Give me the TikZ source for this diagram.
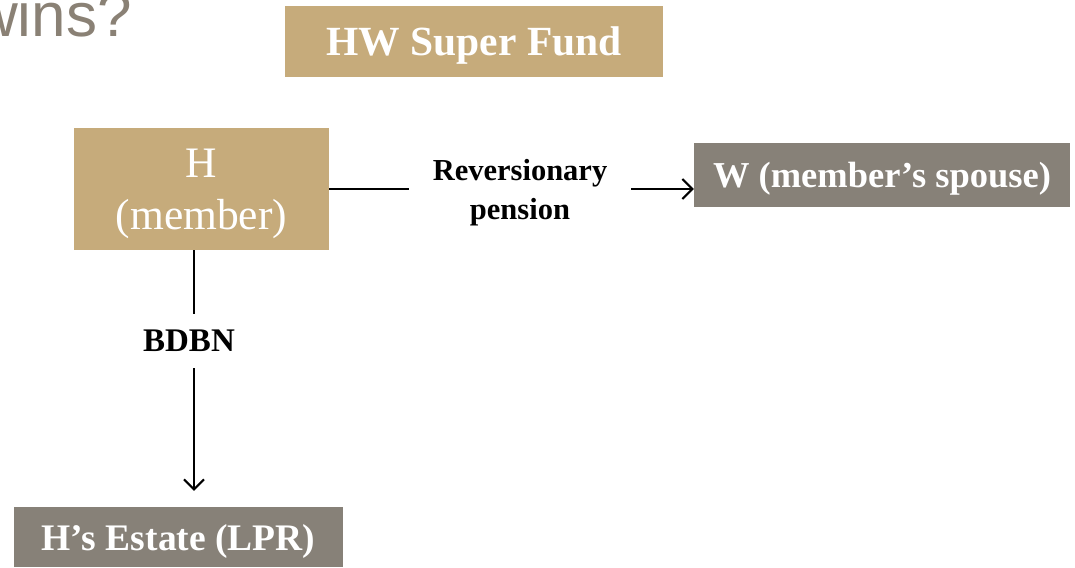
\documentclass[tikz,border=0pt]{standalone}
\usepackage{fontspec}
\setmainfont{Liberation Serif}
\newfontfamily\headfont{Liberation Sans}
\usetikzlibrary{arrows.meta}
\definecolor{fundtan}{HTML}{C6AB7B}
\definecolor{partygrey}{HTML}{878178}
\definecolor{headgrey}{HTML}{8A8175}
\tikzstyle{arrow} = [line width=2pt,-{Straight Barb[length=10pt,width=20pt,line width=2pt]}]
\tikzstyle{link} = [line width=2pt]
\tikzstyle{fundbox} = [fill=fundtan, text=white, inner sep=0pt, align=center, text depth=0pt]
\tikzstyle{partybox} = [fill=partygrey, text=white, inner sep=0pt, align=center, text depth=0pt]

\begin{document}
\begin{tikzpicture}[x=1pt,y=-1pt]
                \useasboundingbox (0,0) rectangle (1075,567);
                \node (title) [anchor=base west, inner sep=0pt, text=headgrey, font=\headfont\fontsize{62}{62}\selectfont] at (-27,37) {wins?};

                \node (fund) [fundbox, minimum width=378pt, minimum height=71pt, font=\bfseries\fontsize{41.5}{41.5}\selectfont] at (474,41.5) {HW Super Fund};
                \node (member) [fundbox, minimum width=255pt, minimum height=122pt, font=\fontsize{43.5}{52}\selectfont] at (201.5,189) {H\\(member)};
                \node (spouse) [partybox, minimum width=376pt, minimum height=64pt, font=\bfseries\fontsize{36.5}{36.5}\selectfont] at (882,175) {W (member’s spouse)};
                \node (estate) [partybox, minimum width=329pt, minimum height=60pt, font=\bfseries\fontsize{37.5}{37.5}\selectfont] at (178.5,537) {H’s Estate (LPR)};

                \node (rev) [inner xsep=24pt, align=center, font=\bfseries\fontsize{30.5}{39}\selectfont] at (520,193) {Reversionary\\pension};
                \node (bdbn) [inner ysep=16pt, inner xsep=0pt, font=\bfseries\fontsize{33}{33}\selectfont] at (189,341) {BDBN};

                \draw [link] (member.east) -- (member.east -| rev.west);
                \draw [arrow] (member.east -| rev.east) -- (member.east -| spouse.west);
                \draw [link] (member.south -| 194,0) -- (bdbn.north -| 194,0);
                \draw [arrow, shorten >=16pt] (bdbn.south -| 194,0) -- (estate.north -| 194,0);
            \end{tikzpicture}
\end{document}
